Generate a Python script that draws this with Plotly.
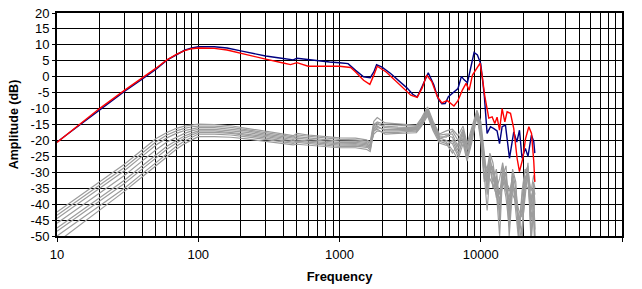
import plotly.graph_objects as go

# ---------------- data ----------------
freq_blue = [10, 15, 20, 30, 40, 50, 60, 70, 80, 90, 100, 130, 160, 200, 250, 300, 400, 470, 500, 550,
             700, 850, 1000, 1150, 1300, 1480, 1650, 1750, 1830, 2000, 2300, 2600, 3000, 3300, 3550, 3850,
             4250, 4650, 5000, 5300, 5600, 5900, 6500, 6900, 7300, 7600, 8050, 8500, 8970, 9470, 10000,
             10300, 10600, 11090, 11720, 12380, 13050, 13580, 14170, 14960, 15970, 17130, 18000, 18800,
             19600, 20700, 21600, 22840, 23740, 24140]
amp_blue = [-20.5, -14.6, -10.3, -4.6, -0.8, 2.3, 5.2, 7.0, 8.3, 9.0, 9.4, 9.4, 9.0, 8.1, 7.2, 6.5, 5.7, 5.3, 5.8, 5.6,
            4.9, 4.6, 4.4, 4.1, 2.0, 0.0, -0.3, 1.5, 3.8, 3.0, 1.0, -1.0, -3.5, -5.5, -6.4, -3.0,
            1.2, -2.5, -7.0, -8.5, -8.4, -6.3, -4.8, -3.7, 0.1, -0.9, -1.9, 3.0, 7.6, 6.8, 4.1,
            -1.0, -6.0, -17.8, -15.7, -16.3, -17.0, -21.0, -15.7, -15.2, -25.6, -17.3, -20.5, -16.8,
            -25.6, -22.5, -25.0, -18.3, -20.4, -24.0]

freq_red = [10, 15, 20, 30, 40, 50, 60, 70, 80, 90, 100, 130, 160, 200, 250, 300, 400, 450, 500, 550,
            600, 850, 1000, 1200, 1300, 1480, 1640, 1750, 1850, 2140, 2600, 3200, 3550, 3850, 4140, 4500,
            4930, 5300, 5800, 6460, 6900, 7410, 7870, 8280, 8740, 9470, 9890, 10250, 10670, 11400,
            12040, 12570, 13050, 13580, 14170, 14810, 15370, 16240, 17130, 18080, 18800, 19860, 20760,
            21900, 22880, 23740, 24140]
amp_red = [-20.6, -14.5, -10.0, -4.3, -0.5, 2.6, 5.3, 7.0, 8.2, 8.8, 9.0, 8.9, 8.4, 7.3, 6.3, 5.5, 4.3, 3.8, 4.4, 3.8,
           3.3, 3.3, 3.3, 2.9, 1.5, -1.1, -2.4, 0.5, 3.3, 1.5, -1.9, -5.8, -6.5, -3.5, 0.5, -1.5,
           -6.3, -8.2, -7.5, -9.2, -7.5, -4.2, -2.1, -4.2, 0.5, 3.1, 4.3, 0.0, -6.0, -13.0,
           -12.6, -14.7, -12.7, -16.8, -10.0, -14.2, -11.0, -11.5, -16.3, -25.6, -29.8, -25.6, -19.4,
           -15.7, -17.8, -26.7, -33.0]

freq_gray = [10, 20, 30, 40, 50, 60, 70, 80, 90, 100, 130, 170, 220, 300, 400, 470, 500, 600, 800, 1000,
             1300, 1550, 1650, 1750, 1850, 2100, 2600, 3000, 3500, 3800, 4200, 4600, 5100, 5700, 6300,
             6900, 7500, 8000, 8600, 9400, 10000, 10600, 11100, 11600, 12200, 12900, 13600, 14300, 15100,
             15900, 16800, 17700, 18600, 19600, 20600, 21600, 22700, 23700, 24200]
gray_1 = [-42.5, -33.0, -27.5, -23.0, -19.5, -17.5, -16.2, -15.5, -15.1, -14.9, -15.0, -15.4, -16.2, -17.2, -18.0, -18.5, -17.8, -18.3, -18.8, -19.2,
          -19.3, -19.8, -20.5, -14.0, -12.8, -14.5, -14.8, -15.0, -15.3, -13.0, -9.5, -14.0, -18.0, -17.0, -16.5,
          -18.5, -15.5, -21.0, -16.0, -10.5, -14.0, -24.0, -32.0, -26.0, -30.0, -33.0, -37.0, -29.0, -31.0,
          -40.0, -30.0, -35.0, -46.0, -38.0, -30.0, -28.0, -40.0, -33.0, -35.0]
gray_2 = [-43.5, -34.0, -28.5, -24.0, -20.5, -18.3, -17.0, -16.2, -15.7, -15.5, -15.5, -15.9, -16.6, -17.6, -18.4, -18.9, -18.3, -18.7, -19.2, -19.7,
          -19.8, -20.2, -21.0, -15.0, -14.2, -15.0, -15.2, -15.4, -15.6, -13.5, -10.0, -14.5, -18.3, -18.0, -18.0,
          -22.0, -17.0, -23.0, -18.0, -11.0, -15.0, -27.0, -29.0, -24.0, -27.0, -35.0, -32.0, -27.0, -34.0,
          -36.0, -33.0, -38.0, -42.0, -44.0, -33.0, -31.0, -45.0, -36.0, -50.0]
gray_3 = [-44.5, -35.0, -29.5, -25.0, -21.5, -19.2, -17.8, -16.9, -16.3, -16.0, -16.0, -16.4, -17.0, -18.0, -18.8, -19.3, -18.8, -19.2, -19.7, -20.2,
          -20.2, -20.6, -21.5, -16.0, -15.0, -15.5, -15.8, -15.8, -16.0, -14.0, -10.3, -15.0, -18.8, -19.0, -17.0,
          -20.0, -16.5, -22.0, -17.0, -11.5, -16.5, -25.0, -35.0, -28.0, -33.0, -29.0, -40.0, -31.0, -28.0,
          -45.0, -29.0, -33.0, -50.0, -36.0, -29.0, -30.0, -36.0, -31.0, -33.0]
gray_4 = [-46.0, -36.5, -31.0, -26.5, -23.0, -20.5, -19.0, -17.8, -17.0, -16.5, -16.5, -16.9, -17.5, -18.4, -19.2, -19.7, -19.3, -19.7, -20.2, -20.7,
          -20.6, -21.0, -22.0, -15.5, -14.5, -16.0, -16.2, -16.2, -16.3, -14.3, -10.7, -15.3, -19.2, -20.0, -21.0,
          -25.0, -19.0, -26.0, -20.0, -12.0, -17.0, -30.0, -42.0, -30.0, -28.0, -36.0, -50.0, -30.0, -36.0,
          -38.0, -31.0, -40.0, -44.0, -50.0, -35.0, -27.0, -50.0, -38.0, -48.0]
gray_5 = [-47.5, -38.0, -32.5, -28.0, -24.5, -21.8, -20.0, -18.6, -17.7, -17.0, -17.0, -17.4, -18.0, -18.8, -19.6, -20.1, -19.8, -20.2, -20.6, -21.1,
          -21.0, -21.4, -22.5, -17.0, -16.0, -16.5, -16.6, -16.5, -16.6, -14.6, -11.0, -15.7, -19.5, -18.5, -19.0,
          -23.0, -18.0, -24.5, -19.0, -11.8, -15.5, -28.0, -30.0, -25.0, -31.0, -38.0, -36.0, -33.0, -30.0,
          -50.0, -35.0, -36.0, -48.0, -41.0, -31.0, -33.0, -42.0, -34.0, -40.0]
gray_6 = [-48.5, -39.0, -33.5, -29.0, -25.5, -22.8, -20.8, -19.3, -18.3, -17.5, -17.5, -17.8, -18.4, -19.2, -20.0, -20.5, -20.2, -20.6, -21.0, -21.5,
          -21.4, -21.8, -23.0, -16.5, -15.5, -17.0, -17.0, -16.8, -17.0, -15.0, -11.4, -16.0, -19.8, -20.5, -23.0,
          -26.0, -21.0, -26.5, -21.0, -12.5, -18.0, -32.0, -33.0, -27.0, -35.0, -31.0, -45.0, -28.0, -35.0,
          -42.0, -32.0, -42.0, -52.0, -47.0, -37.0, -29.0, -52.0, -42.0, -52.0]
gray_7 = [-50.0, -40.5, -35.0, -30.5, -27.0, -24.0, -21.8, -20.2, -19.0, -18.0, -18.0, -18.3, -18.9, -19.7, -20.4, -20.9, -20.6, -21.0, -21.4, -21.9,
          -21.8, -22.2, -21.5, -18.0, -17.0, -17.5, -17.5, -17.2, -17.3, -15.3, -11.8, -16.5, -20.3, -21.0, -24.0,
          -21.0, -17.5, -22.5, -18.0, -11.3, -19.0, -26.0, -37.0, -29.0, -29.0, -34.0, -39.0, -34.0, -33.0,
          -35.0, -37.0, -39.0, -45.0, -43.0, -34.0, -35.0, -38.0, -35.0, -37.0]
gray_8 = [-52.0, -42.0, -36.0, -31.5, -28.0, -25.0, -22.8, -21.0, -19.8, -18.8, -18.8, -19.0, -19.5, -20.2, -20.9, -21.4, -21.2, -21.5, -21.9, -22.3,
          -22.3, -22.8, -23.5, -17.0, -16.5, -18.0, -17.8, -17.6, -17.6, -15.6, -12.3, -17.0, -20.8, -21.5, -20.0,
          -24.0, -20.0, -25.0, -19.5, -12.2, -20.0, -33.0, -31.0, -32.0, -34.0, -37.0, -42.0, -32.0, -38.0,
          -47.0, -34.0, -37.0, -50.0, -52.0, -32.0, -32.0, -47.0, -45.0, -55.0]
gray_series = [gray_1, gray_2, gray_3, gray_4, gray_5, gray_6, gray_7, gray_8]

x_tick_vals = [10, 100, 1000, 10000, 100000]
x_tick_text = ["10", "100", "1000", "10000", "100000"]
x_minor_vals = [m * d for d in [10, 100, 1000, 10000] for m in range(2, 10)]
y_tick_vals = [20, 15, 10, 5, 0, -5, -10, -15, -20, -25, -30, -35, -40, -45, -50]
y_tick_text = ["20", "15", "10", "5", "0", "-5", "-10", "-15", "-20", "-25", "-30", "-35", "-40", "-45", "-50"]

# ---------------- figure ----------------
fig = go.Figure()
for g in gray_series:
    fig.add_trace(go.Scatter(x=freq_gray, y=g, mode="lines",
                             line=dict(color="#9c9c9c", width=1.2), showlegend=False,
                             hoverinfo="skip"))
fig.add_trace(go.Scatter(x=freq_blue, y=amp_blue, mode="lines",
                         line=dict(color="#000080", width=1.4), showlegend=False))
fig.add_trace(go.Scatter(x=freq_red, y=amp_red, mode="lines",
                         line=dict(color="#ff0000", width=1.4), showlegend=False))

font_family = "Liberation Sans, Arial, sans-serif"
fig.update_layout(
    width=642, height=289,
    margin=dict(l=57, r=20, t=13, b=53, autoexpand=False),
    paper_bgcolor="white", plot_bgcolor="white",
    font=dict(family=font_family, size=13, color="black"),
    showlegend=False,
)
fig.update_xaxes(
    type="log", range=[1, 5],
    tickmode="array", tickvals=x_tick_vals, ticktext=x_tick_text,
    ticks="outside", ticklen=4, tickcolor="black", tickwidth=1,
    ticklabelstandoff=1,
    tickfont=dict(size=13),
    showgrid=True, gridcolor="black", gridwidth=1,
    minor=dict(tickmode="array", tickvals=x_minor_vals, showgrid=True,
               gridcolor="black", gridwidth=1, ticks=""),
    showline=True, linecolor="black", linewidth=2, mirror=True,
    zeroline=False,
    title=dict(text="<b>Frequency</b>", font=dict(size=13), standoff=11),
)
fig.update_yaxes(
    range=[-50, 20],
    tickmode="array", tickvals=y_tick_vals, ticktext=y_tick_text,
    ticks="outside", ticklen=3, tickcolor="black", tickwidth=1,
    tickfont=dict(size=13),
    showgrid=True, gridcolor="black", gridwidth=1,
    showline=True, linecolor="black", linewidth=2, mirror=True,
    zeroline=False,
    title=dict(text="<b>Amplitude (dB)</b>", font=dict(size=12.5), standoff=9),
)

fig.write_html("out.html", config={"displayModeBar": False},
               post_script="document.body.style.margin='0';document.body.style.padding='0';")
